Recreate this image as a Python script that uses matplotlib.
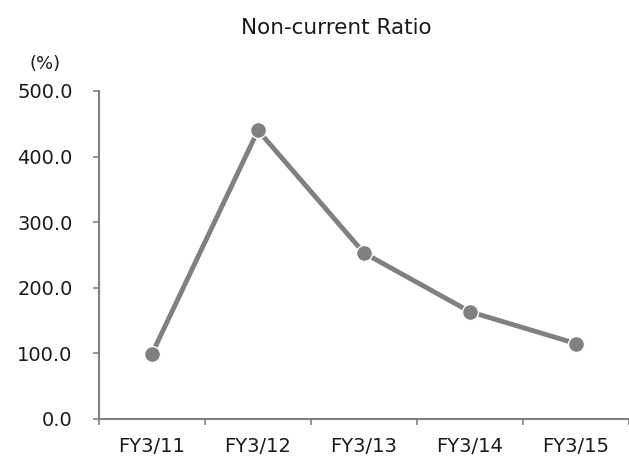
import matplotlib.pyplot as plt

years = ["FY3/11", "FY3/12", "FY3/13", "FY3/14", "FY3/15"]
ratio = [99.5, 440.0, 253.0, 163.5, 115.0]
y_ticks = [0, 100, 200, 300, 400, 500]

grey = "#808080"
plt.rcParams["font.family"] = ["DejaVu Sans"]

fig = plt.figure(figsize=(6.29, 4.57), dpi=100)
ax = fig.add_axes([99 / 629, 38 / 457, 530 / 629, 328 / 457])

x = list(range(len(years)))
ax.plot(x, ratio, color=grey, linewidth=3.5, marker="o", markersize=11.5,
        markerfacecolor=grey, markeredgecolor="white", markeredgewidth=1, zorder=3)

ax.set_xlim(-0.5, -0.5 + 530 / 107.5)
ax.set_ylim(0, 500)
ax.set_yticks(y_ticks)
ax.set_yticklabels([f"{v:.1f}" for v in y_ticks], fontsize=14, color="#1a1a1a")

# categories labelled at centres, ticks at boundaries
ax.set_xticks(x)
ax.set_xticklabels(years, fontsize=14, color="#1a1a1a")
ax.tick_params(axis="x", which="major", length=0, pad=13)
ax.set_xticks([i - 0.5 for i in range(len(years) + 1)], minor=True)
ax.tick_params(axis="x", which="minor", length=4.5, color=grey, width=1.2)
ax.tick_params(axis="y", length=4.5, color=grey, width=1.2, pad=14.5)

for side in ["top", "right"]:
    ax.spines[side].set_visible(False)
for side in ["left", "bottom"]:
    ax.spines[side].set_color(grey)
    ax.spines[side].set_linewidth(1.5)

fig.text(336 / 629, 1 - 28 / 457, "Non-current Ratio", ha="center", va="center",
         fontsize=15.5, color="#1a1a1a")
fig.text(45 / 629, 1 - 64 / 457, "(%)", ha="center", va="center",
         fontsize=13, color="#1a1a1a")

fig.savefig("out.png", dpi=100)
